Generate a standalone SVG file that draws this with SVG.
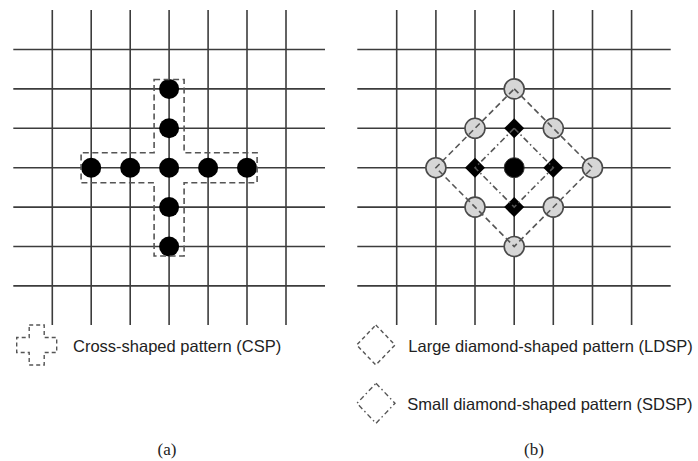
<svg xmlns="http://www.w3.org/2000/svg" width="698" height="461" viewBox="0 0 698 461">
<style>
.grid line{stroke:#3c3c3c;stroke-width:1.6}
.dot{fill:#000}
.gc{fill:#d6d6d6;stroke:#4a4a4a;stroke-width:1.6}
.dia{fill:#000}
.dash{fill:none;stroke:#555;stroke-width:1.6;stroke-dasharray:6 3.5}
.dashs{fill:none;stroke:#555;stroke-width:1.4;stroke-dasharray:4 3}
.dashdot{fill:none;stroke:#555;stroke-width:1.6;stroke-dasharray:6 3 1.5 3}
.dashdots{fill:none;stroke:#555;stroke-width:1.4;stroke-dasharray:5 3 1.5 3}
.lbl{font-family:"Liberation Sans",Arial,sans-serif;font-size:16.5px;fill:#222}
.cap{font-family:"Liberation Serif","Times New Roman",serif;font-size:17px;fill:#222;text-anchor:middle}
</style>
<rect width="698" height="461" fill="#fff"/>

<g id="grid-a" class="grid">
<line x1="52.3" y1="10" x2="52.3" y2="325"/>
<line x1="91.2" y1="10" x2="91.2" y2="325"/>
<line x1="130.2" y1="10" x2="130.2" y2="325"/>
<line x1="169.1" y1="10" x2="169.1" y2="325"/>
<line x1="208.1" y1="10" x2="208.1" y2="325"/>
<line x1="247" y1="10" x2="247" y2="325"/>
<line x1="286" y1="10" x2="286" y2="325"/>
<line x1="13.3" y1="49.5" x2="325" y2="49.5"/>
<line x1="13.3" y1="88.9" x2="325" y2="88.9"/>
<line x1="13.3" y1="128.3" x2="325" y2="128.3"/>
<line x1="13.3" y1="167.7" x2="325" y2="167.7"/>
<line x1="13.3" y1="207.1" x2="325" y2="207.1"/>
<line x1="13.3" y1="246.5" x2="325" y2="246.5"/>
<line x1="13.3" y1="285.9" x2="325" y2="285.9"/>
</g>

<g id="grid-b" class="grid">
<line x1="396.7" y1="10" x2="396.7" y2="325"/>
<line x1="435.9" y1="10" x2="435.9" y2="325"/>
<line x1="475" y1="10" x2="475" y2="325"/>
<line x1="514.2" y1="10" x2="514.2" y2="325"/>
<line x1="553.3" y1="10" x2="553.3" y2="325"/>
<line x1="592.5" y1="10" x2="592.5" y2="325"/>
<line x1="631.6" y1="10" x2="631.6" y2="325"/>
<line x1="357.3" y1="49.5" x2="670.7" y2="49.5"/>
<line x1="357.3" y1="88.9" x2="670.7" y2="88.9"/>
<line x1="357.3" y1="128.3" x2="670.7" y2="128.3"/>
<line x1="357.3" y1="167.7" x2="670.7" y2="167.7"/>
<line x1="357.3" y1="207.1" x2="670.7" y2="207.1"/>
<line x1="357.3" y1="246.5" x2="670.7" y2="246.5"/>
<line x1="357.3" y1="285.9" x2="670.7" y2="285.9"/>
</g>

<g id="csp-points">
<circle class="dot" cx="169.1" cy="88.9" r="10"/>
<circle class="dot" cx="169.1" cy="128.3" r="10"/>
<circle class="dot" cx="91.2" cy="167.7" r="10"/>
<circle class="dot" cx="130.2" cy="167.7" r="10"/>
<circle class="dot" cx="169.1" cy="167.7" r="10"/>
<circle class="dot" cx="208.1" cy="167.7" r="10"/>
<circle class="dot" cx="247" cy="167.7" r="10"/>
<circle class="dot" cx="169.1" cy="207.1" r="10"/>
<circle class="dot" cx="169.1" cy="246.5" r="10"/>
</g>
<g id="csp-outline">
<path class="dash" d="M154.1 79.5 H184.1 V152.7 H257.1 V182.7 H184.1 V256 H154.1 V182.7 H81.1 V152.7 H154.1 Z"/>
</g>

<g id="ldsp-points">
<circle class="gc" cx="514.2" cy="88.9" r="10"/>
<circle class="gc" cx="475" cy="128.3" r="10"/>
<circle class="gc" cx="553.3" cy="128.3" r="10"/>
<circle class="gc" cx="435.9" cy="167.7" r="10"/>
<circle class="gc" cx="592.5" cy="167.7" r="10"/>
<circle class="gc" cx="475" cy="207.1" r="10"/>
<circle class="gc" cx="553.3" cy="207.1" r="10"/>
<circle class="gc" cx="514.2" cy="246.5" r="10"/>
</g>
<g id="sdsp-points">
<path class="dia" d="M514.2 118.3 L524.2 128.3 L514.2 138.3 L504.2 128.3 Z"/>
<path class="dia" d="M475 157.7 L485 167.7 L475 177.7 L465 167.7 Z"/>
<path class="dia" d="M553.3 157.7 L563.3 167.7 L553.3 177.7 L543.3 167.7 Z"/>
<path class="dia" d="M514.2 197.1 L524.2 207.1 L514.2 217.1 L504.2 207.1 Z"/>
<circle cx="514.2" cy="167.7" r="10" fill="#000" stroke="#333" stroke-width="1"/>
</g>
<g id="connectors">
<path class="dash" d="M514.2 88.9 L592.5 167.7 L514.2 246.5 L435.9 167.7 Z"/>
<path class="dashdot" d="M514.2 128.3 L553.3 167.7 L514.2 207.1 L475 167.7 Z"/>
</g>

<g id="legend-csp">
<path class="dashs" d="M29.2 325 H44.2 V337.5 H56.7 V352.5 H44.2 V365 H29.2 V352.5 H16.7 V337.5 H29.2 Z"/>
<text class="lbl" x="73" y="352">Cross-shaped pattern (CSP)</text>
</g>
<g id="legend-ldsp">
<path class="dashs" d="M375.8 325 L395 345 L375.8 365 L356.7 345 Z"/>
<text class="lbl" x="408.3" y="352">Large diamond-shaped pattern (LDSP)</text>
</g>
<g id="legend-sdsp">
<path class="dashdots" d="M376 383.3 L395 403.3 L376 423.3 L357 403.3 Z"/>
<text class="lbl" x="407.3" y="410">Small diamond-shaped pattern (SDSP)</text>
</g>

<text class="cap" x="167" y="455">(a)</text>
<text class="cap" x="534" y="455">(b)</text>
</svg>
